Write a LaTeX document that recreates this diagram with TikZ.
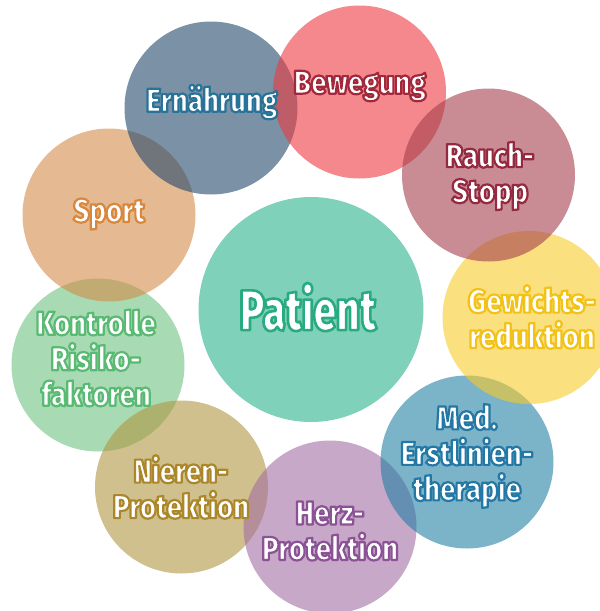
\documentclass[tikz,border=0pt]{standalone}
\usepackage{fontspec}
\newfontfamily\cf[FakeStretch=0.84]{Fira Sans Black}
\newfontfamily\cfp[FakeStretch=0.72]{Fira Sans Black}
% white text with a coloured outline: fill + stroke render mode
\newcommand\ol[3][2.2]{\special{pdf:literal direct 2 Tr #1 w 1 j #2 RG}#3\special{pdf:literal direct 0 Tr}}
\definecolor{cK}{RGB}{110,195,128}
\definecolor{cS}{RGB}{212,140,73}
\definecolor{cE}{RGB}{33,72,107}
\definecolor{cB}{RGB}{237,57,63}
\definecolor{cN}{RGB}{177,150,65}
\definecolor{cH}{RGB}{162,110,163}
\definecolor{cM}{RGB}{35,128,163}
\definecolor{cG}{RGB}{248,203,42}
\definecolor{cR}{RGB}{165,63,78}
\definecolor{cP}{RGB}{127,209,186}
\tikzset{
  bub/.style={circle, minimum size=173pt, inner sep=0pt, draw=none, fill opacity=0.6},
  lab/.style={text=white, align=center, inner sep=0pt, font=\cf\fontsize{33}{35.5}\selectfont},
}
\begin{document}
\begin{tikzpicture}[x=1pt,y=-1pt]
\useasboundingbox (0,0) rectangle (600,611);
\clip (0,0) rectangle (600,611);
% circles
\node[bub, fill=cK] (kon) at (98,365) {};
\node[bub, fill=cS] (spo) at (109,215) {};
\node[bub, fill=cE] (ern) at (211,108) {};
\node[bub, fill=cB] (bew) at (359.5,92) {};
\node[bub, fill=cN] (nie) at (181.5,487) {};
\node[bub, fill=cH] (her) at (330,527) {};
\node[bub, fill=cM] (med) at (467,462) {};
\node[bub, fill=cG] (gew) at (529,317.5) {};
\node[bub, fill=cR] (rau) at (488.5,175) {};
\node[circle, minimum size=225pt, inner sep=0pt, fill=cP] (pat) at (311,309.5) {};
% labels
\node[lab] (tkon) at (96,358) {\ol{0.35 0.73 0.45}{Kontrolle\\Risiko-\\faktoren}};
\node[lab] (tspo) at (109,214) {\ol{0.85 0.53 0.24}{Sport}};
\node[lab] (tern) at (212,102) {\ol{0.16 0.45 0.60}{Ernährung}};
\node[lab] (tbew) at (360,86) {\ol{0.63 0.16 0.23}{Bewegung}};
\node[lab] (trau) at (490,176) {\ol{0.58 0.16 0.25}{Rauch-\\Stopp}};
\node[lab] (tgew) at (532,317) {\ol{0.95 0.76 0.10}{Gewichts-\\reduktion}};
\node[lab] (tmed) at (467,456) {\ol{0.14 0.47 0.65}{Med.\\Erstlinien-\\therapie}};
\node[lab] (ther) at (330,531) {\ol{0.55 0.32 0.59}{Herz-\\Protektion}};
\node[lab] (tnie) at (181,487) {\ol{0.67 0.53 0.16}{Nieren-\\Protektion}};
\node[lab, font=\cfp\fontsize{57}{60}\selectfont] (tpat) at (308,307) {\ol[2.6]{0.16 0.67 0.51}{Patient}};
\end{tikzpicture}
\end{document}
